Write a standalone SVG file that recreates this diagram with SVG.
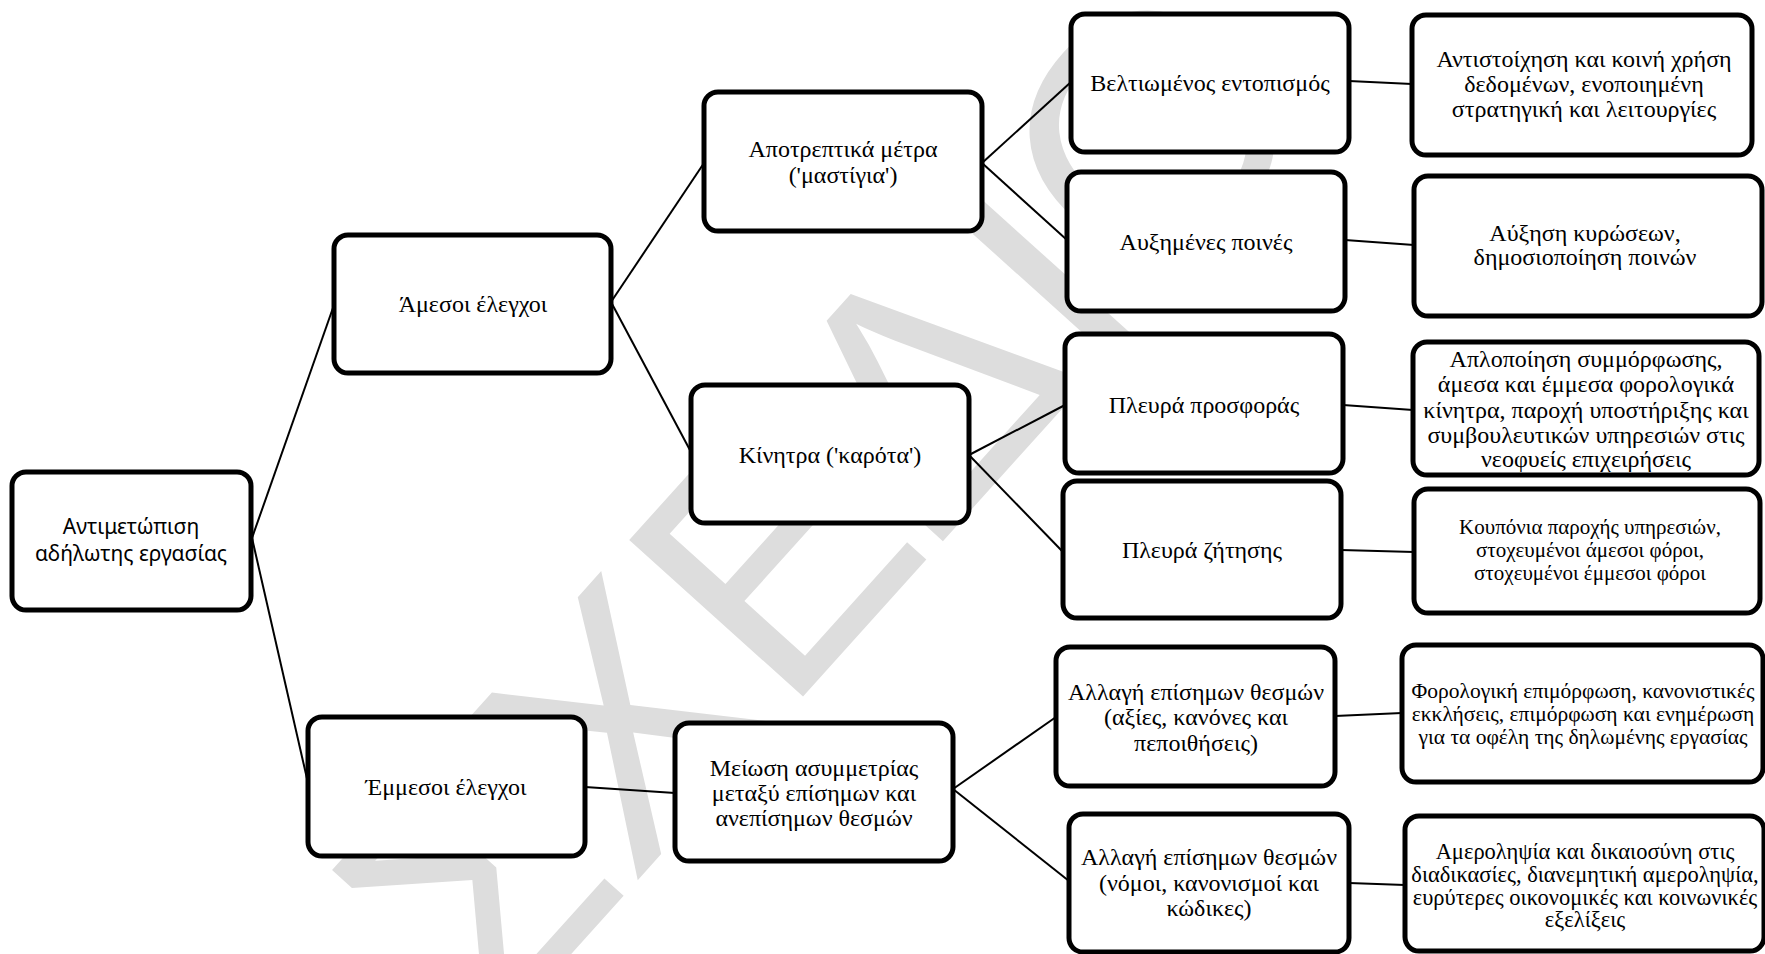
<svg xmlns="http://www.w3.org/2000/svg" width="1765" height="954" viewBox="0 0 1765 954">
<style>
.box{fill:#fff;stroke:#000;stroke-width:5}
.t{font-family:"Liberation Serif","Times New Roman",serif;font-size:24px;fill:#000;text-anchor:middle}
.s{font-size:22.5px}
.s2{font-size:21.5px}
.xs{font-size:21px}
.root{font-family:"Noto Sans","Open Sans",sans-serif;font-size:21px;fill:#000;text-anchor:middle}
.wm{font-family:"Liberation Sans","Open Sans",sans-serif;font-size:340px;fill:#dddddd}
#connectors line{stroke:#000;stroke-width:2}
</style>
<rect width="1765" height="954" fill="#fff"/>
<text class="wm" x="492" y="1042" transform="rotate(-48 492 1042)">ΣΧΕΔΙΟ</text>
<g id="connectors">
<line x1="252" y1="538" x2="334" y2="305"/>
<line x1="252" y1="538" x2="308" y2="783"/>
<line x1="611" y1="302" x2="704" y2="163"/>
<line x1="611" y1="302" x2="691" y2="452"/>
<line x1="585" y1="787" x2="675" y2="793"/>
<line x1="982" y1="163" x2="1071" y2="82"/>
<line x1="982" y1="163" x2="1067" y2="240"/>
<line x1="969" y1="455" x2="1065" y2="405"/>
<line x1="969" y1="455" x2="1063" y2="552"/>
<line x1="953" y1="789" x2="1056" y2="717"/>
<line x1="953" y1="789" x2="1069" y2="881"/>
<line x1="1349" y1="81" x2="1412" y2="84"/>
<line x1="1345" y1="240" x2="1414" y2="245"/>
<line x1="1343" y1="405" x2="1413" y2="410"/>
<line x1="1341" y1="550" x2="1414" y2="552"/>
<line x1="1335" y1="716" x2="1402" y2="713"/>
<line x1="1349" y1="883" x2="1405" y2="885"/>
</g>
<g id="n-root"><rect class="box" x="12" y="472" width="239" height="138" rx="14"/><text class="root"><tspan x="131" y="534">Αντιμετώπιση</tspan><tspan x="131" y="561">αδήλωτης εργασίας</tspan></text></g>
<g id="n-amesoi"><rect class="box" x="334" y="235" width="277" height="138" rx="14"/><text class="t" x="473" y="312">Άμεσοι έλεγχοι</text></g>
<g id="n-emmesoi"><rect class="box" x="308" y="717" width="277" height="139" rx="14"/><text class="t" x="446" y="795">Έμμεσοι έλεγχοι</text></g>
<g id="n-apotreptika"><rect class="box" x="704" y="92" width="278" height="139" rx="14"/><text class="t"><tspan x="843" y="157">Αποτρεπτικά μέτρα</tspan><tspan x="843" y="183">('μαστίγια')</tspan></text></g>
<g id="n-kinitra"><rect class="box" x="691" y="385" width="278" height="138" rx="14"/><text class="t" x="830" y="463">Κίνητρα ('καρότα')</text></g>
<g id="n-meiosi"><rect class="box" x="675" y="723" width="278" height="138" rx="14"/><text class="t"><tspan x="814" y="776">Μείωση ασυμμετρίας</tspan><tspan x="814" y="801">μεταξύ επίσημων και</tspan><tspan x="814" y="826">ανεπίσημων θεσμών</tspan></text></g>
<g id="n-veltiomenos"><rect class="box" x="1071" y="14" width="278" height="138" rx="14"/><text class="t" x="1210" y="91">Βελτιωμένος εντοπισμός</text></g>
<g id="n-afximenes"><rect class="box" x="1067" y="172" width="278" height="139" rx="14"/><text class="t" x="1206" y="250">Αυξημένες ποινές</text></g>
<g id="n-prosfora"><rect class="box" x="1065" y="334" width="278" height="139" rx="14"/><text class="t" x="1204" y="413">Πλευρά προσφοράς</text></g>
<g id="n-zitisi"><rect class="box" x="1063" y="481" width="278" height="137" rx="14"/><text class="t" x="1202" y="558">Πλευρά ζήτησης</text></g>
<g id="n-allagi1"><rect class="box" x="1056" y="647" width="279" height="139" rx="14"/><text class="t"><tspan x="1196" y="700">Αλλαγή επίσημων θεσμών</tspan><tspan x="1196" y="725">(αξίες, κανόνες και</tspan><tspan x="1196" y="751">πεποιθήσεις)</tspan></text></g>
<g id="n-allagi2"><rect class="box" x="1069" y="814" width="280" height="138" rx="14"/><text class="t"><tspan x="1209" y="865">Αλλαγή επίσημων θεσμών</tspan><tspan x="1209" y="891">(νόμοι, κανονισμοί και</tspan><tspan x="1209" y="916">κώδικες)</tspan></text></g>
<g id="n-antistoixisi"><rect class="box" x="1412" y="15" width="340" height="140" rx="14"/><text class="t"><tspan x="1584" y="67">Αντιστοίχηση και κοινή χρήση</tspan><tspan x="1584" y="92">δεδομένων, ενοποιημένη</tspan><tspan x="1584" y="117">στρατηγική και λειτουργίες</tspan></text></g>
<g id="n-afxisi"><rect class="box" x="1414" y="176" width="348" height="140" rx="14"/><text class="t"><tspan x="1585" y="241">Αύξηση κυρώσεων,</tspan><tspan x="1585" y="265">δημοσιοποίηση ποινών</tspan></text></g>
<g id="n-aplopoiisi"><rect class="box" x="1413" y="342" width="346" height="133" rx="14"/><text class="t"><tspan x="1586" y="367">Απλοποίηση συμμόρφωσης,</tspan><tspan x="1586" y="392">άμεσα και έμμεσα φορολογικά</tspan><tspan x="1586" y="418">κίνητρα, παροχή υποστήριξης και</tspan><tspan x="1586" y="443">συμβουλευτικών υπηρεσιών στις</tspan><tspan x="1586" y="467">νεοφυείς επιχειρήσεις</tspan></text></g>
<g id="n-kouponia"><rect class="box" x="1414" y="489" width="346" height="124" rx="14"/><text class="t xs"><tspan x="1590" y="534">Κουπόνια παροχής υπηρεσιών,</tspan><tspan x="1590" y="557">στοχευμένοι άμεσοι φόροι,</tspan><tspan x="1590" y="580">στοχευμένοι έμμεσοι φόροι</tspan></text></g>
<g id="n-forologiki"><rect class="box" x="1402" y="645" width="361" height="137" rx="14"/><text class="t s2"><tspan x="1583" y="698">Φορολογική επιμόρφωση, κανονιστικές</tspan><tspan x="1583" y="721">εκκλήσεις, επιμόρφωση και ενημέρωση</tspan><tspan x="1583" y="744">για τα οφέλη της δηλωμένης εργασίας</tspan></text></g>
<g id="n-amerolipsia"><rect class="box" x="1405" y="816" width="359" height="135" rx="14"/><text class="t s"><tspan x="1585" y="859">Αμεροληψία και δικαιοσύνη στις</tspan><tspan x="1585" y="882">διαδικασίες, διανεμητική αμεροληψία,</tspan><tspan x="1585" y="905">ευρύτερες οικονομικές και κοινωνικές</tspan><tspan x="1585" y="927">εξελίξεις</tspan></text></g>
</svg>
